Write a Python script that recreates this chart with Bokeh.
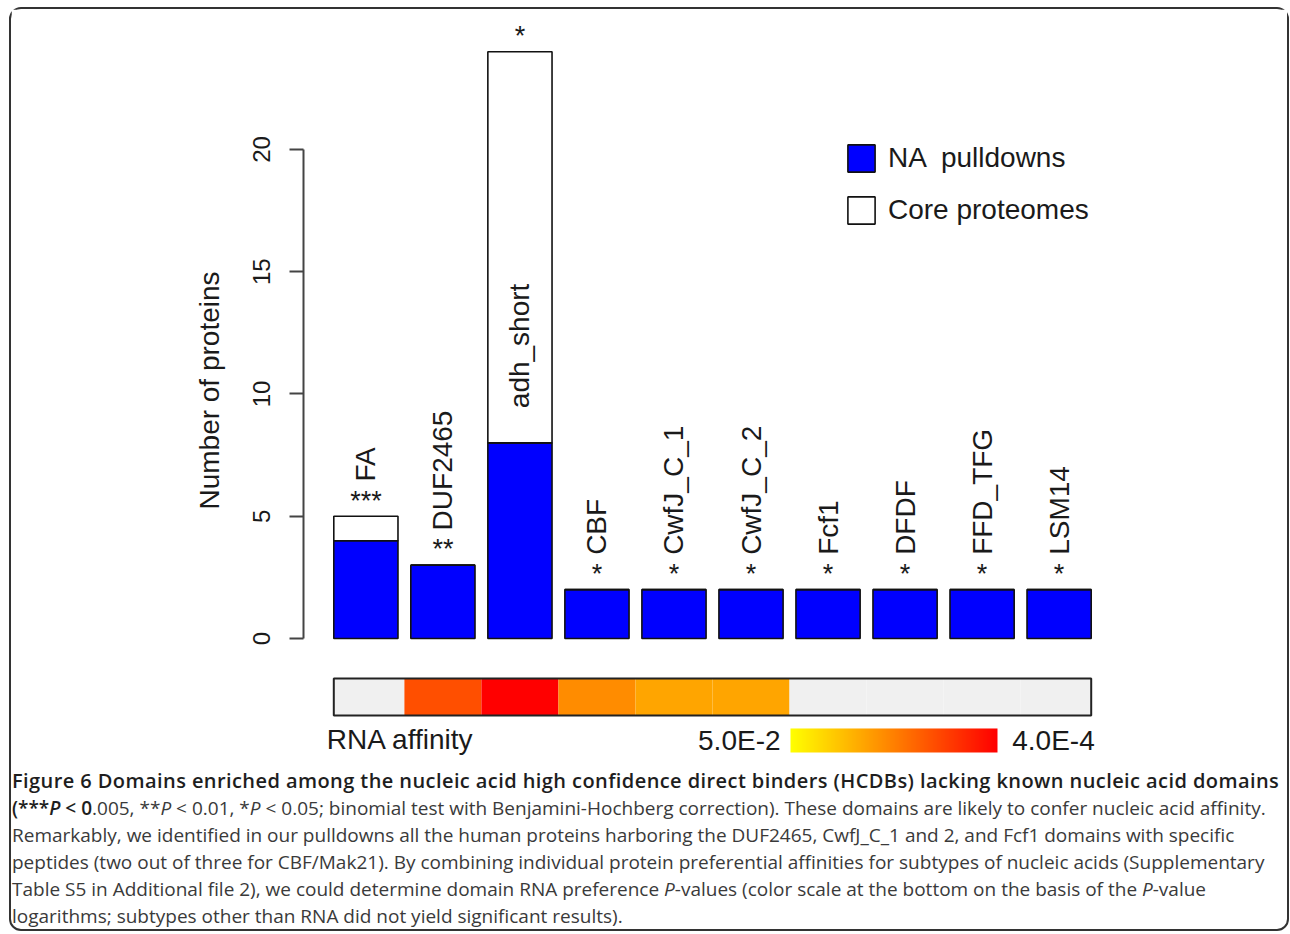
import numpy as np
from bokeh.plotting import figure
from bokeh.models import (Range1d, Legend, LegendItem, LinearColorMapper, Div,
                          ColumnDataSource, Label, FixedTicker)
from bokeh.layouts import column
from bokeh.embed import file_html
from bokeh.resources import INLINE
from bokeh.core.properties import value
from bokeh.transform import linear_cmap

# ---------------- data ----------------
domains = ["FA", "DUF2465", "adh_short", "CBF", "CwfJ_C_1", "CwfJ_C_2",
           "Fcf1", "DFDF", "FFD_TFG", "LSM14"]
na_pulldowns = [4, 3, 8, 2, 2, 2, 2, 2, 2, 2]
core_proteomes = [1, 0, 16, 0, 0, 0, 0, 0, 0, 0]
significance = ["***", "**", "*", "*", "*", "*", "*", "*", "*", "*"]
rna_pvalues = [np.nan, 1.8e-3, 4.0e-4, 5.7e-3, 9.1e-3, 9.1e-3,
               np.nan, np.nan, np.nan, np.nan]
scale_limits = [5.0e-2, 4.0e-4]
scale_labels = ["5.0E-2", "4.0E-4"]
y_ticks = [0, 5, 10, 15, 20]
legend_labels = ["NA  pulldowns", "Core proteomes"]

FONT = "Liberation Sans"
TXT = "#1a1a1a"

# R-style barplot geometry (space 0.2, width 1)
n = len(domains)
centers = [1.2 * i + 0.7 for i in range(n)]
pull = np.array(na_pulldowns, dtype=float)
core = np.array(core_proteomes, dtype=float)
total = pull + core
# long bar: name written inside the bar above the pulldown part
anchor = np.where(total < 10, total, pull)

src = ColumnDataSource(dict(x=centers, pull=pull, total=total, name=domains,
                            sig=significance, lab_y=anchor + 1.42,
                            sig_y=total + 0.64))

p = figure(width=1276, height=758, output_backend="svg", toolbar_location=None,
           x_range=Range1d(-0.272, 12.472), y_range=Range1d(-5.195, 25.48),
           min_border_left=292, min_border_right=166, min_border_top=6,
           min_border_bottom=2)
p.xaxis.visible = False
p.grid.visible = False
p.outline_line_color = None
p.background_fill_color = "white"

r_pull = p.vbar(x="x", width=1.0, bottom=0, top="pull", source=src,
                fill_color="#0000FF", line_color="#111111", line_width=1.6)
r_core = p.vbar(x="x", width=1.0, bottom="pull", top="total", source=src,
                fill_color="white", line_color="#111111", line_width=1.6)

p.text(x="x", y="lab_y", text="name", source=src, angle=np.pi / 2,
       text_align="left", text_baseline="middle", text_font=value(FONT),
       text_font_size="28px", text_color=TXT)
p.text(x="x", y="sig_y", text="sig", source=src, text_align="center",
       text_baseline="alphabetic", text_font=value(FONT),
       text_font_size="27px", text_color=TXT)

# y axis
ax = p.yaxis[0]
ax.ticker = FixedTicker(ticks=y_ticks)
ax.bounds = (0, 20)
ax.major_label_orientation = "parallel"
ax.axis_line_color = "#444444"
ax.axis_line_width = 2
ax.major_tick_line_color = "#444444"
ax.major_tick_line_width = 2
ax.major_tick_out = 14
ax.major_tick_in = 0
ax.minor_tick_line_color = None
ax.major_label_text_font = FONT
ax.major_label_text_font_size = "24px"
ax.major_label_text_color = TXT
ax.major_label_standoff = 19
ax.axis_label = "Number of proteins"
ax.axis_label_text_font = FONT
ax.axis_label_text_font_size = "28px"
ax.axis_label_text_font_style = "normal"
ax.axis_label_text_color = TXT
ax.axis_label_standoff = 26

# legend
legend = Legend(items=[LegendItem(label=legend_labels[0], renderers=[r_pull]),
                       LegendItem(label=legend_labels[1], renderers=[r_core])],
                location=(541, 538), padding=0, margin=0, spacing=18,
                glyph_width=34, glyph_height=34, label_standoff=10,
                label_text_font=FONT, label_text_font_size="28px",
                label_text_color=TXT, border_line_color=None,
                background_fill_alpha=0)
p.add_layout(legend)

# RNA affinity strip
heat = ["#%02x%02x%02x" % (255, int(round(255 * (1 - t))), 0)
        for t in np.linspace(0, 1, 256)]
lo, hi = -np.log10(scale_limits[0]), -np.log10(scale_limits[1])
edges = [0.2] + [c + 0.6 for c in centers[:-1]] + [centers[-1] + 0.5]
strip = ColumnDataSource(dict(left=edges[:-1], right=edges[1:],
                              logp=-np.log10(np.array(rna_pvalues))))
p.quad(left="left", right="right", bottom=-3.149, top=-1.636, source=strip,
       fill_color=linear_cmap("logp", heat, lo, hi, nan_color="#F0F0F0"),
       line_color=None)
p.quad(left=[edges[0]], right=[edges[-1]], bottom=[-3.149], top=[-1.636],
       fill_color=None, line_color="#222222", line_width=2)

# color scale
grad = np.linspace(lo, hi, 256).reshape(1, 256)
p.image(image=[grad], x=7.315, y=-4.663, dw=3.225, dh=0.982,
        color_mapper=LinearColorMapper(palette=heat, low=lo, high=hi))

p.add_layout(Label(x=0.09, y=-4.15, text="RNA affinity", text_align="left",
                   text_baseline="middle", text_font=FONT,
                   text_font_size="28px", text_color=TXT))
p.add_layout(Label(x=7.16, y=-4.17, text=scale_labels[0], text_align="right",
                   text_baseline="middle", text_font=FONT,
                   text_font_size="28px", text_color=TXT))
p.add_layout(Label(x=10.77, y=-4.17, text=scale_labels[1], text_align="left",
                   text_baseline="middle", text_font=FONT,
                   text_font_size="28px", text_color=TXT))

caption = """<div style="font-family:'Open Sans'; font-size:19px; line-height:27px; color:#3a3a3a; letter-spacing:0px; white-space:nowrap; padding-left:1px; margin-top:0px;">
<span style="color:#1e1e1e; font-weight:600; font-size:20px; letter-spacing:0.42px;">Figure 6 Domains enriched among the nucleic acid high confidence direct binders (HCDBs) lacking known nucleic acid domains</span><br>
<span style="color:#1e1e1e; font-weight:600;">(***<i>P</i> &lt; 0</span>.005, **<i>P</i> &lt; 0.01, *<i>P</i> &lt; 0.05; binomial test with Benjamini-Hochberg correction). These domains are likely to confer nucleic acid affinity.<br>
Remarkably, we identified in our pulldowns all the human proteins harboring the DUF2465, CwfJ_C_1 and 2, and Fcf1 domains with specific<br>
peptides (two out of three for CBF/Mak21). By combining individual protein preferential affinities for subtypes of nucleic acids (Supplementary<br>
Table S5 in Additional file 2), we could determine domain RNA preference <i>P</i>-values (color scale at the bottom on the basis of the <i>P</i>-value<br>
logarithms; subtypes other than RNA did not yield significant results).
</div>"""
div = Div(text=caption, width=1276, height=162, margin=0)

layout = column(p, div, spacing=0,
                styles={"border": "2px solid #333333", "border-radius": "12px",
                        "margin": "7px 0 0 9px"})

open("out.html", "w").write(file_html(layout, INLINE))
